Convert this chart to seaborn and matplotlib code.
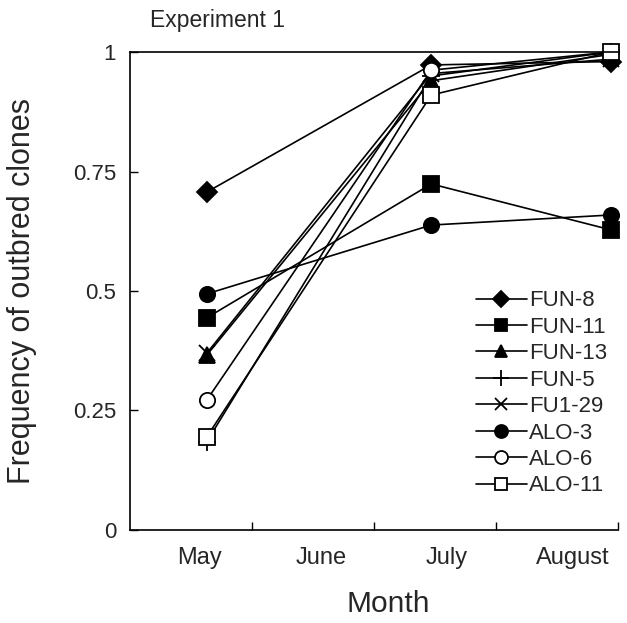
import matplotlib
matplotlib.use("Agg")
import matplotlib.pyplot as plt
import seaborn as sns
import pandas as pd

sns.set_theme(style="ticks")
plt.rcParams['font.family'] = ['Liberation Sans', 'DejaVu Sans']

months = ["May", "June", "July", "August"]
# numeric positions of sampling dates on the month axis (0..4)
sample_x = [0.63, 2.47, 3.94]

series = ["FUN-8", "FUN-11", "FUN-13", "FUN-5", "FU1-29", "ALO-3", "ALO-6", "ALO-11"]
fun8 = [0.707, 0.973, 0.98]
fun11 = [0.444, 0.724, 0.628]
fun13 = [0.366, 0.94, 0.995]
fun5 = [0.185, 0.95, 1.0]
fu129 = [0.37, 0.955, 0.985]
alo3 = [0.494, 0.638, 0.659]
alo6 = [0.272, 0.962, 1.0]
alo11 = [0.195, 0.91, 1.0]
values = [fun8, fun11, fun13, fun5, fu129, alo3, alo6, alo11]

markers = ["D", "s", "^", "+", "x", "o", "o", "s"]
filled = [True, True, True, True, True, True, False, False]
msizes = [10, 11, 11, 13, 11, 11, 11, 11]

fig = plt.figure(figsize=(6.27, 6.23), dpi=100)
ax = fig.add_axes([0.2073, 0.1493, 0.7783, 0.7672])

for name, vals, m, f, ms in zip(series, values, markers, filled, msizes):
    df = pd.DataFrame({"x": sample_x, "y": vals})
    sns.lineplot(data=df, x="x", y="y", ax=ax, color="black", linewidth=1.2,
                 marker=m, markersize=ms,
                 markerfacecolor="black" if f else "white",
                 markeredgecolor="black", markeredgewidth=1.3,
                 label=name, clip_on=False)

ax.set_xlim(0, 4)
ax.set_ylim(0, 1)
ax.set_xticks([1, 2, 3, 4])
ax.set_xticklabels([])
ax.set_xticks([0.57, 1.57, 2.6, 3.63], minor=True)
ax.set_xticklabels(months, minor=True)
ax.tick_params(axis="x", which="major", direction="in", length=6, width=1, color="black")
ax.tick_params(axis="x", which="minor", length=0, pad=12, labelsize=17)
ax.set_yticks([0, 0.25, 0.5, 0.75, 1])
ax.set_yticklabels(["0", "0.25", "0.5", "0.75", "1"])
ax.tick_params(axis="y", direction="in", length=6, width=1, color="black", labelsize=16, pad=10)

for s in ["left", "bottom", "top"]:
    ax.spines[s].set_visible(True)
    ax.spines[s].set_color("black")
    ax.spines[s].set_linewidth(1.2)
ax.spines["right"].set_visible(False)

ax.set_xlabel("Month", fontsize=21.5)
ax.xaxis.set_label_coords(0.53, -0.125)
ax.set_ylabel("Frequency of outbred clones", fontsize=22)
ax.yaxis.set_label_coords(-0.19, 0.5)
fig.text(0.240, 0.967, "Experiment 1", fontsize=16.5, ha="left", va="center")

leg = ax.legend(loc="upper left", bbox_to_anchor=(0.759, 0.534),
                bbox_transform=fig.transFigure, frameon=False, fontsize=16,
                handlelength=2.3, handletextpad=0.1, labelspacing=0.245,
                borderpad=0, borderaxespad=0, markerscale=0.85)

fig.savefig("out.png", dpi=100)
